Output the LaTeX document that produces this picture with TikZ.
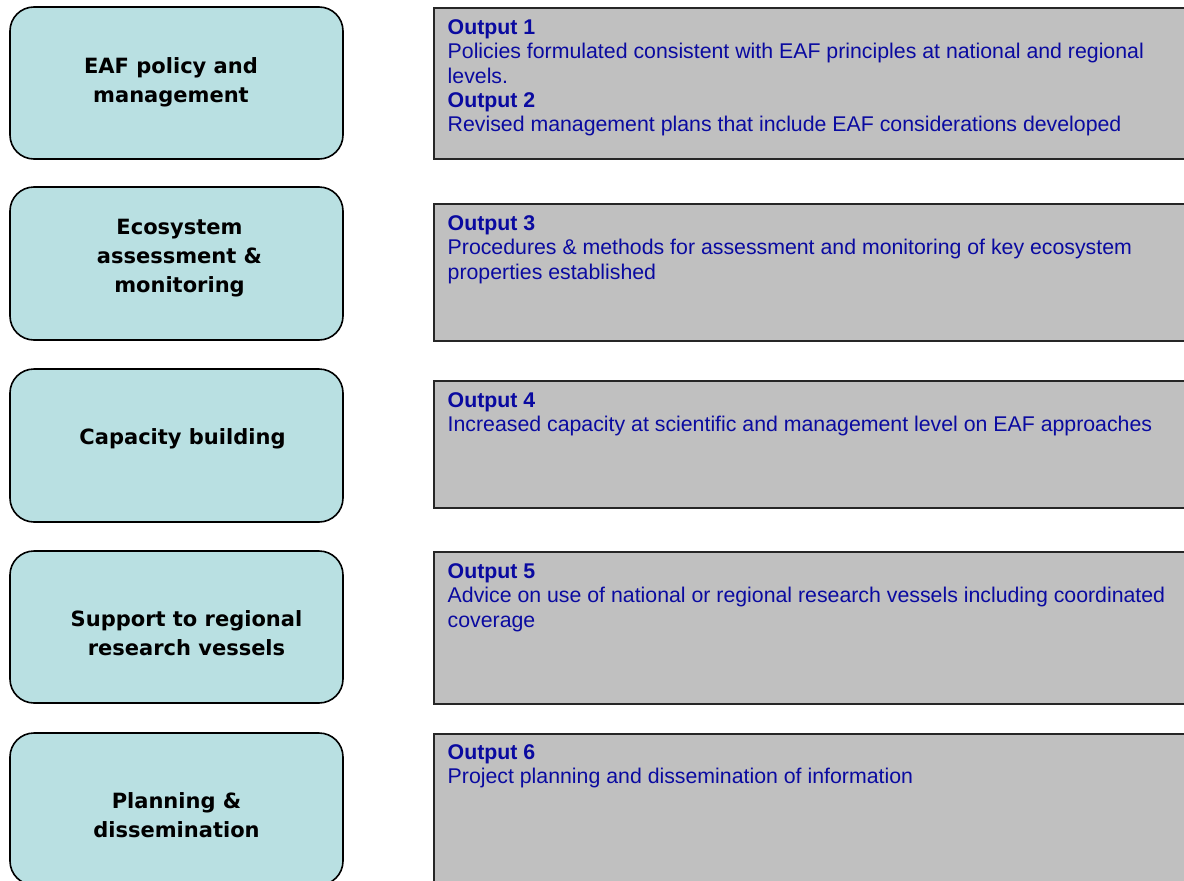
\documentclass[tikz,border=0pt]{standalone}
\usepackage{fontspec}
\setmainfont{Liberation Sans}
\newfontfamily\themefont{DejaVu Sans}
\definecolor{themecyan}{RGB}{185,224,226}
\definecolor{outgrey}{RGB}{192,192,192}
\definecolor{outblue}{RGB}{10,10,160}
\begin{document}
\begin{tikzpicture}[
 x=1pt,y=-1pt,
 theme/.style={draw=black,line width=1.6pt,rounded corners=24pt,fill=themecyan,
  minimum width=333pt,inner sep=0pt},
 outbox/.style={draw=black!85,line width=1.8pt,fill=outgrey,inner sep=0pt,
  minimum width=790pt},
 themetext/.style={font=\themefont\bfseries\fontsize{21}{29}\selectfont,
  align=center,inner sep=0pt},
 outtext/.style={font=\fontsize{21.3}{24.3}\selectfont,text=outblue,
  align=left,anchor=north west,inner sep=0pt}
]
 \useasboundingbox (0,0) rectangle (1184,881);
 \clip (0,0) rectangle (1184,881);

 % theme boxes on the left
 \node[theme,minimum height=152pt] (eaf) at (176.5,83) {};
 \node[theme,minimum height=153pt] (eco) at (176.5,263.5) {};
 \node[theme,minimum height=153pt] (cap) at (176.5,445.5) {};
 \node[theme,minimum height=152pt] (ves) at (176.5,627) {};
 \node[theme,minimum height=152pt] (plan) at (176.5,809) {};

 \node[themetext] (eaftxt) at (171,82.5) {EAF policy and\\management};
 \node[themetext] (ecotxt) at (179.5,258.5) {Ecosystem\\assessment \&\\monitoring};
 \node[themetext] (captxt) at (182.5,439) {Capacity building};
 \node[themetext] (vestxt) at (186.5,633.5) {Support to regional\\research vessels};
 \node[themetext] (plantxt) at (176.5,815) {Planning \&\\dissemination};

 % output boxes, cut off at the right
 \node[outbox,minimum height=151pt,anchor=north west] (out1) at (433,7) {};
 \node[outbox,minimum height=137pt,anchor=north west] (out3) at (433,203) {};
 \node[outbox,minimum height=127pt,anchor=north west] (out4) at (433,380) {};
 \node[outbox,minimum height=152pt,anchor=north west] (out5) at (433,551) {};
 \node[outbox,minimum height=160pt,anchor=north west] (out6) at (433,733) {};

 \node[outtext] (out1txt) at ([xshift=14.5pt,yshift=-12.5pt]out1.north west)
  {\textbf{Output 1}\\Policies formulated consistent with EAF principles at national and regional\\levels.\\\textbf{Output 2}\\Revised management plans that include EAF considerations developed};
 \node[outtext] (out3txt) at ([xshift=14.5pt,yshift=-12.5pt]out3.north west)
  {\textbf{Output 3}\\Procedures \& methods for assessment and monitoring of key ecosystem\\properties established};
 \node[outtext] (out4txt) at ([xshift=14.5pt,yshift=-12.5pt]out4.north west)
  {\textbf{Output 4}\\Increased capacity at scientific and management level on EAF approaches};
 \node[outtext] (out5txt) at ([xshift=14.5pt,yshift=-12.5pt]out5.north west)
  {\textbf{Output 5}\\Advice on use of national or regional research vessels including coordinated\\coverage};
 \node[outtext] (out6txt) at ([xshift=14.5pt,yshift=-11.5pt]out6.north west)
  {\textbf{Output 6}\\Project planning and dissemination of information};
\end{tikzpicture}
\end{document}
